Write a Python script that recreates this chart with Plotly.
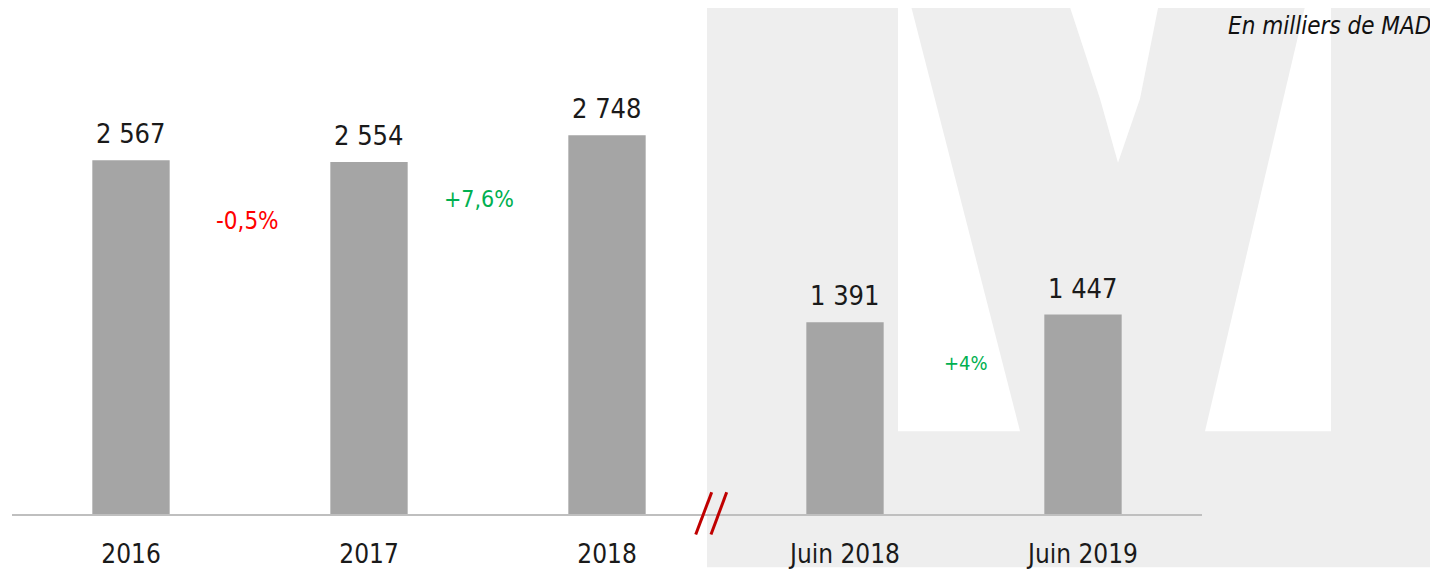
import plotly.graph_objects as go

# data
categories = ["2016", "2017", "2018", "Juin 2018", "Juin 2019"]
values = [2567, 2554, 2748, 1391, 1447]
growth_labels = ["-0,5%", "+7,6%", "+4%"]
growth_pairs = [(0, 1), (1, 2), (3, 4)]
growth_colors = ["#ff0000", "#00b050", "#00b050"]
unit_note = "En milliers de MAD"

# page body adds an 8px margin, so the figure is built 8px smaller
OFF = 8
W, H = 1438 - OFF, 569 - OFF
L, T = 12 - OFF, 0
AXIS_Y = 521 - OFF
R = W - (1202 - OFF)
B = H - AXIS_Y
PLOT_W, PLOT_H = W - L - R, AXIS_Y - T
FONT = "DejaVu Sans Condensed"


# screen pixel -> paper helpers for the decorative bits
def px(x):
    return (x - OFF - L) / PLOT_W


def py(y):
    return (AXIS_Y - (y - OFF)) / PLOT_H


fig = go.Figure()
fig.add_trace(go.Bar(x=categories, y=values, width=0.325,
                     marker=dict(color="#a5a5a5", line=dict(width=0)),
                     hoverinfo="x+y"))

# value labels above bars
for i, v in enumerate(values):
    fig.add_annotation(x=i, y=v, text=f"{v:,}".replace(",", " "), showarrow=False,
                       yanchor="bottom", yshift=9,
                       font=dict(family=FONT, size=27, color="#1a1a1a"))

# growth labels between bars
g_shift = [-59, -37, -41]
g_xshift = [-3, -9, 2]
g_size = [24, 23, 20]
for (a, b), txt, col, sh, xs, sz in zip(growth_pairs, growth_labels, growth_colors,
                                         g_shift, g_xshift, g_size):
    fig.add_annotation(x=(a + b) / 2, y=min(values[a], values[b]), text=txt,
                       showarrow=False, yanchor="middle", yshift=sh, xshift=xs,
                       font=dict(family=FONT, size=sz, color=col))

# unit note
fig.add_annotation(xref="paper", yref="paper", x=px(1433), y=py(26), text=unit_note,
                   showarrow=False, xanchor="right", yanchor="middle",
                   font=dict(family=FONT, size=24, color="#111111", style="italic"))

# textured watermark background (approximated), right half
shapes = [dict(type="rect", xref="paper", yref="paper", layer="below",
               x0=px(707), x1=px(1440), y0=py(-2), y1=py(575),
               fillcolor="#eeeeee", line=dict(width=0))]


def poly(pts):
    return "M " + " L ".join(f"{px(x):.5f},{py(y):.5f}" for x, y in pts) + " Z"


for pts in ([(898, -2), (909, -2), (1020, 437), (898, 437)],
            [(1307, -2), (1331, -2), (1331, 437), (1205, 437)],
            [(1067, -2), (1160, -2), (1140, 100), (1118, 165), (1100, 100)]):
    shapes.append(dict(type="path", xref="paper", yref="paper", layer="below",
                       path=poly(pts), fillcolor="#ffffff", line=dict(width=0)))

# axis break marks
for x0, x1 in ((711.7, 695.7), (726.7, 711.0)):
    shapes.append(dict(type="line", xref="paper", yref="paper",
                       x0=px(x0), y0=py(499), x1=px(x1), y1=py(541.7),
                       line=dict(color="#c00000", width=3)))

fig.update_layout(
    width=W, height=H,
    margin=dict(l=L, r=R, t=T, b=B),
    paper_bgcolor="#ffffff", plot_bgcolor="rgba(0,0,0,0)",
    showlegend=False, shapes=shapes,
    xaxis=dict(type="category", range=[-0.5, 4.5], showgrid=False, zeroline=False,
               showline=True, linecolor="#bfbfbf", linewidth=2, ticks="",
               ticklabelstandoff=16,
               tickfont=dict(family=FONT, size=26, color="#1a1a1a")),
    yaxis=dict(range=[0, PLOT_H / 0.1397], visible=False, showgrid=False,
               zeroline=False),
)

fig.write_html("out.html")
